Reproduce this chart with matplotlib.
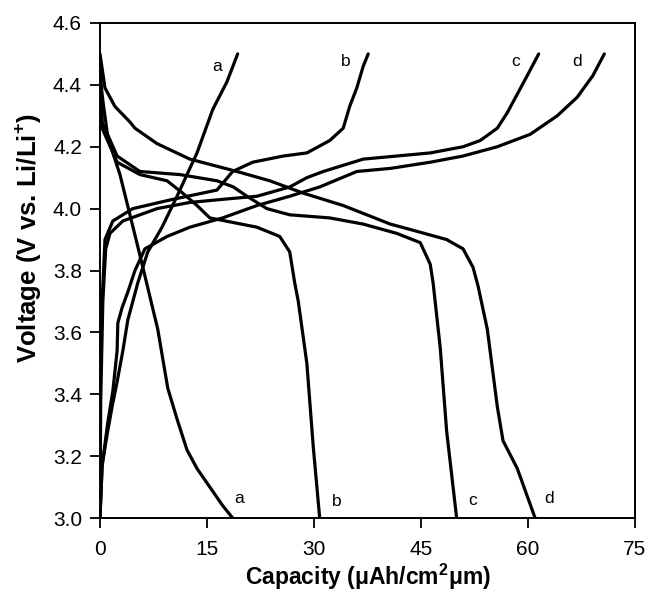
import matplotlib.pyplot as plt

plt.rcParams['font.family'] = ['Liberation Sans', 'DejaVu Sans']

# charge curves: capacity (uAh/cm2um) and voltage (V)
charge_a_x = [0, 0.3, 1.0, 1.7, 2.4, 3.2, 3.9, 5.3, 6.7, 8.7, 10.8, 13.6, 15.8, 17.8, 19.3]
charge_a_v = [3.00, 3.17, 3.27, 3.36, 3.44, 3.54, 3.64, 3.76, 3.86, 3.94, 4.04, 4.18, 4.32, 4.41, 4.50]

charge_b_x = [0, 0.0, 0.3, 0.7, 1.8, 4.6, 10.2, 16.4, 18.6, 21.4, 25.7, 29.0, 32.2, 34.1, 35.0, 36.0, 36.9, 37.6]
charge_b_v = [3.00, 3.38, 3.70, 3.90, 3.96, 4.00, 4.03, 4.06, 4.12, 4.15, 4.17, 4.18, 4.22, 4.26, 4.33, 4.39, 4.46, 4.50]

charge_c_x = [0, 0.1, 0.4, 0.8, 1.4, 3.2, 8.0, 12.6, 17.2, 22.0, 26.6, 29.0, 31.3, 36.9, 41.6, 46.3, 50.9, 53.3, 55.7, 57.1, 58.5, 59.9, 61.5]
charge_c_v = [3.00, 3.38, 3.70, 3.87, 3.92, 3.96, 4.00, 4.02, 4.03, 4.04, 4.07, 4.10, 4.12, 4.16, 4.17, 4.18, 4.20, 4.22, 4.26, 4.31, 4.37, 4.43, 4.50]

charge_d_x = [0, 0.3, 1.1, 1.8, 2.4, 2.5, 3.1, 3.9, 4.9, 6.3, 9.4, 12.6, 17.2, 22.0, 26.6, 30.8, 36.0, 40.7, 46.3, 50.9, 55.7, 60.3, 64.1, 66.9, 69.1, 70.7]
charge_d_v = [3.00, 3.17, 3.31, 3.41, 3.54, 3.63, 3.68, 3.73, 3.80, 3.87, 3.91, 3.94, 3.97, 4.01, 4.04, 4.07, 4.12, 4.13, 4.15, 4.17, 4.20, 4.24, 4.30, 4.36, 4.43, 4.50]

# discharge curves
dis_a_x = [0, 0.15, 0.4, 1.1, 2.8, 4.2, 5.7, 8.1, 9.5, 10.8, 12.2, 13.6, 15.4, 17.2, 18.6]
dis_a_v = [4.48, 4.40, 4.35, 4.23, 4.11, 3.98, 3.84, 3.61, 3.42, 3.32, 3.22, 3.16, 3.10, 3.04, 3.00]

dis_b_x = [0, 0.15, 0.3, 2.4, 5.6, 9.4, 11.6, 13.6, 15.4, 22.0, 25.2, 26.6, 27.3, 27.8, 29.0, 29.9, 30.8]
dis_b_v = [4.47, 4.38, 4.26, 4.15, 4.11, 4.09, 4.05, 4.01, 3.97, 3.94, 3.91, 3.86, 3.76, 3.70, 3.50, 3.23, 3.00]

dis_c_x = [0, 0.15, 0.3, 2.4, 5.6, 11.2, 16.4, 18.7, 20.6, 23.4, 26.6, 32.2, 36.9, 41.6, 44.9, 46.3, 46.7, 47.7, 48.6, 50.0]
dis_c_v = [4.46, 4.38, 4.28, 4.17, 4.12, 4.11, 4.09, 4.07, 4.04, 4.00, 3.98, 3.97, 3.95, 3.92, 3.89, 3.82, 3.76, 3.55, 3.28, 3.00]

dis_d_x = [0, 0.7, 1.4, 2.1, 4.2, 4.9, 8.0, 12.6, 19.2, 23.8, 28.5, 34.1, 40.7, 43.9, 48.6, 50.9, 52.3, 53.0, 54.3, 55.7, 56.5, 58.5, 61.0]
dis_d_v = [4.50, 4.39, 4.36, 4.33, 4.28, 4.26, 4.21, 4.16, 4.12, 4.09, 4.05, 4.01, 3.95, 3.93, 3.90, 3.87, 3.81, 3.75, 3.61, 3.36, 3.25, 3.16, 3.00]

curve_names = ['a', 'b', 'c', 'd']
top_label_x = [16.4, 34.5, 58.3, 66.9]
top_label_v = [4.46, 4.477, 4.474, 4.474]
bottom_label_x = [19.5, 33.2, 52.3, 62.9]
bottom_label_v = [3.062, 3.055, 3.058, 3.062]

fig = plt.figure(figsize=(6.48, 5.97), dpi=100)
ax = fig.add_axes([0.1543, 0.1323, 0.8256, 0.8292])

for x, v in [(charge_a_x, charge_a_v), (charge_b_x, charge_b_v),
             (charge_c_x, charge_c_v), (charge_d_x, charge_d_v),
             (dis_a_x, dis_a_v), (dis_b_x, dis_b_v),
             (dis_c_x, dis_c_v), (dis_d_x, dis_d_v)]:
    ax.plot(x, v, color='black', lw=2.3, solid_joinstyle='round', solid_capstyle='round')

for name, x, v in zip(curve_names, top_label_x, top_label_v):
    ax.text(x, v, name, fontsize=12.5, ha='center', va='center')
for name, x, v in zip(curve_names, bottom_label_x, bottom_label_v):
    ax.text(x, v, name, fontsize=12.5, ha='center', va='center')

ax.set_xlim(0, 75)
ax.set_ylim(3.0, 4.6)
ax.set_xticks([0, 15, 30, 45, 60, 75])
ax.set_yticks([3.0, 3.2, 3.4, 3.6, 3.8, 4.0, 4.2, 4.4, 4.6])
ax.set_yticklabels(['%.1f' % t for t in ax.get_yticks()])
ax.tick_params(direction='out', length=7, width=1.3, labelsize=15)
ax.tick_params(axis='x', pad=9)
ax.tick_params(axis='y', pad=6)
for s in ax.spines.values():
    s.set_linewidth(1.4)

ax.set_xlabel('Capacity (\u03bcAh/cm$^{\\mathregular{2}}$\u03bcm)', fontsize=16.5, fontweight='bold', labelpad=2)
ax.set_ylabel('Voltage (V vs. Li/Li$^{\\mathregular{+}}$)', fontsize=18.5, fontweight='bold')
ax.yaxis.set_label_coords(-0.106, 0.565)

fig.savefig('out.png', dpi=100)
